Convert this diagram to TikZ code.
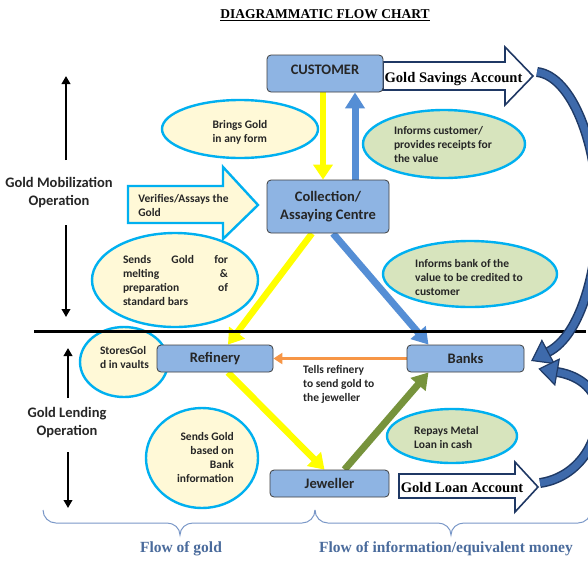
\documentclass[tikz,border=0pt]{standalone}
\usepackage{fontspec}
\setmainfont{Carlito}
\newfontfamily\serifface{Liberation Serif}
\usetikzlibrary{arrows.meta,shapes.geometric}
\pgfdeclarelayer{back}
\pgfsetlayers{back,main}
\definecolor{boxfill}{HTML}{8EB4E3}
\definecolor{boxline}{HTML}{3F3F3F}
\definecolor{ovline}{HTML}{00B0F0}
\definecolor{creamc}{HTML}{FFF9D7}
\definecolor{greenc}{HTML}{D7E4BD}
\definecolor{yelc}{HTML}{FFFF00}
\definecolor{bluec}{HTML}{558ED5}
\definecolor{olivec}{HTML}{77933C}
\definecolor{orangec}{HTML}{F79646}
\definecolor{navyc}{HTML}{1F3864}
\definecolor{curvefill}{HTML}{3E6AAB}
\definecolor{curveline}{HTML}{1F3A66}
\definecolor{bracec}{HTML}{7A98C8}
\definecolor{labelc}{HTML}{4A6B9C}
\begin{document}
\begin{tikzpicture}[x=1pt,y=-1pt,
  box/.style={draw=boxline, fill=boxfill, line width=0.8pt, rounded corners=4pt, inner sep=0pt, font=\bfseries\fontsize{14.5}{18}\selectfont, text=black!85, align=center},
  oval/.style={ellipse, draw=ovline, line width=2.4pt, inner sep=0pt},
  creamov/.style={oval, fill=creamc},
  greenov/.style={oval, fill=greenc},
  small/.style={inner sep=0pt, font=\bfseries\fontsize{11.5}{14}\selectfont, text=black!85},
  side/.style={inner sep=0pt, align=center, font=\bfseries\fontsize{14.5}{18}\selectfont, text=black!85},
  acct/.style={inner sep=0pt, font=\serifface\bfseries\fontsize{14.6}{17}\selectfont},
  flowlab/.style={inner sep=0pt, text=labelc, font=\serifface\bfseries\fontsize{15.5}{18}\selectfont},
  outarrow/.style={draw=navyc, fill=white, line width=1.6pt, line join=miter},
  blockarrow/.style={draw=ovline, fill=creamc, line width=2.4pt, line join=miter},
  yarrow/.style={draw=yelc, line width=6.5pt, -{Triangle[width=19pt,length=15pt]}},
  barrow/.style={draw=bluec, line width=7pt, -{Triangle[width=19pt,length=16pt]}},
  garrow/.style={draw=olivec, line width=7pt, -{Triangle[width=19pt,length=16pt]}},
  oarrow/.style={draw=orangec, line width=3.5pt, -{Triangle[width=11pt,length=9pt]}},
  vert/.style={draw=black, line width=2.6pt, -{Triangle[width=8.5pt,length=8pt]}},
  bracestyle/.style={draw=bracec, line width=1pt},
  curveouter/.style={draw=curveline, line width=10pt},
  curveinner/.style={draw=curvefill, line width=7pt},
  curvehead/.style={draw=curveline, fill=curvefill, line width=1.2pt, line join=miter},
]
\clip (0,0) rectangle (588,563);
\useasboundingbox (0,0) rectangle (588,563);
\begin{pgfonlayer}{back}
  \fill[white] (0,0) rectangle (588,563);
\end{pgfonlayer}

% title
\node[inner sep=0pt, font=\serifface\bfseries\fontsize{13.5}{16}\selectfont] (title) at (325,15) {\underline{DIAGRAMMATIC FLOW CHART}};

% ellipses
\node[creamov, minimum width=156pt, minimum height=58pt] (bring) at (240,129) {};
\node[greenov, minimum width=162pt, minimum height=68pt] (infc) at (444,144) {};
\node[creamov, minimum width=166pt, minimum height=94pt] (melt) at (175,280) {};
\node[greenov, minimum width=174pt, minimum height=66pt] (infb) at (470,274) {};
\node[creamov, minimum width=88pt, minimum height=70pt] (store) at (124,362) {};
\node[creamov, minimum width=112pt, minimum height=100pt] (based) at (202,458) {};
\node[greenov, minimum width=130pt, minimum height=54pt] (repay) at (452,436) {};

% divider
\draw[line width=3pt] (34,331) -- (586,331);

% boxes
\node[box, minimum width=116pt, minimum height=37pt, text depth=7pt] (cust) at (325,73.5) {CUSTOMER};
\node[box, minimum width=122pt, minimum height=53pt] (coll) at (328,206.5) {Collection/\\Assaying Centre};
\node[box, minimum width=116pt, minimum height=27pt] (ref) at (215,358.5) {Refinery};
\node[box, minimum width=117pt, minimum height=27pt] (bank) at (465.5,358.5) {Banks};
\node[box, minimum width=119pt, minimum height=27pt] (jew) at (329.5,483.5) {Jeweller};

% texts in ellipses
\node[small, align=left] (tbring) at (240,132) {Brings Gold\\in any form};
\node[small, align=left] (tinfc) at (443,145) {Informs customer/\\provides receipts for\\the value};
\node[small, align=left] (tmelt) at (175.5,280) {\makebox[105pt][s]{Sends Gold for}\\\makebox[105pt][s]{melting \&}\\\makebox[105pt][s]{preparation of}\\standard bars};
\node[small, align=left] (tinfb) at (469,277) {Informs bank of the\\value to be credited to\\customer};
\node[small, align=left] (tstore) at (124.5,357) {StoresGol\\d in vaults};
\node[small, align=left, anchor=west] (ttell) at (303,384) {Tells refinery\\to send gold to\\the jeweller};
\node[small, align=right, anchor=east] (tbased) at (234,457) {Sends Gold\\based on\\Bank\\information};
\node[small, align=left, anchor=west] (trepay) at (414,437) {Repays Metal\\Loan in cash};

% side labels and arrows
\node[side] (mob) at (59,193) {Gold Mobilization\\Operation};
\node[side] (lend) at (67,423) {Gold Lending\\Operation};
\coordinate (mobA) at (66,160);
\coordinate (mobT) at (66,76);
\coordinate (mobB) at (66,225);
\coordinate (mobE) at (66,317);
\coordinate (lendA) at (68,398);
\coordinate (lendT) at (68,348);
\coordinate (lendB) at (68,452);
\coordinate (lendE) at (68,508);
\draw[vert] (mobA) -- (mobT);
\draw[vert] (mobB) -- (mobE);
\draw[vert] (lendA) -- (lendT);
\draw[vert] (lendB) -- (lendE);

\begin{pgfonlayer}{back}
  % block arrows
  \draw[outarrow] (383,62) -- (505,62) -- (505,47) -- (533,76) -- (505,105) -- (505,90) -- (383,90) -- cycle;
  \draw[outarrow] (399,474) -- (515,474) -- (515,462) -- (538,487) -- (515,512) -- (515,498) -- (399,498) -- cycle;
  \draw[blockarrow] (128,186) -- (223,186) -- (223,167) -- (258,205) -- (223,239) -- (223,223) -- (128,223) -- cycle;
  % connectors
  \draw[yarrow] ([xshift=-2pt]cust.south) -- ([xshift=-5pt]coll.north);
  \draw[barrow] ([xshift=27pt]coll.north) -- ([xshift=30pt]cust.south);
  \draw[yarrow] ([xshift=-16pt]coll.south) -- ([xshift=13pt]ref.north);
  \draw[barrow] ([xshift=5pt]coll.south) -- ([xshift=-37pt]bank.north);
  \draw[yarrow] ([xshift=13pt]ref.south) -- ([xshift=-5pt]jew.north);
  \draw[garrow] ([xshift=15pt]jew.north) -- ([xshift=-37pt]bank.south);
  \draw[oarrow] (bank.west) -- (ref.east);
\end{pgfonlayer}

\node[small, align=left] (tverif) at (183.5,205) {Verifies/Assays the\\Gold};
\node[acct] (tsav) at (453.5,79) {Gold Savings Account};
\node[acct] (tloan) at (462,488) {Gold Loan Account};

% curved arrows
\draw[curveouter] (537,72) .. controls (572,76) and (598,145) .. (598,215) .. controls (598,265) and (582,335) .. (548,352);
\draw[curveinner] (537,72) .. controls (572,76) and (598,145) .. (598,215) .. controls (598,265) and (582,335) .. (548,352);
\draw[curvehead] (554.1,363.5) -- (532,360.5) -- (541.9,340.5) -- cycle;
\draw[curveouter] (540,483) .. controls (574,478) and (598,448) .. (598,412) .. controls (598,392) and (582,376) .. (557,372);
\draw[curveinner] (540,483) .. controls (574,478) and (598,448) .. (598,412) .. controls (598,392) and (582,376) .. (557,372);
\draw[curvehead] (559.2,359.2) -- (539.3,368.9) -- (554.8,384.8) -- cycle;

% braces
\draw[bracestyle] (43,510) to[out=-90,in=180] (56,523) -- (167,523) to[out=0,in=90] (180,535) to[out=90,in=180] (193,523) -- (302,523) to[out=0,in=-90] (315,510);
\draw[bracestyle] (315,510) to[out=-90,in=180] (328,523) -- (438,523) to[out=0,in=90] (451,535) to[out=90,in=180] (464,523) -- (578,523) to[out=0,in=-90] (591,510);
\node[flowlab] (fgold) at (181,549) {Flow of gold};
\node[flowlab] (finfo) at (446,549) {Flow of information/equivalent money};
\end{tikzpicture}
\end{document}
